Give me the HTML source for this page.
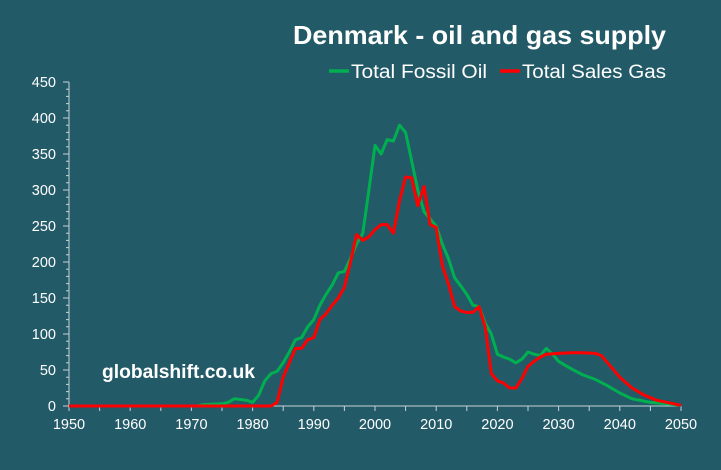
<!DOCTYPE html>
<html><head><meta charset="utf-8"><style>
body{margin:0;background:#235a68;}
svg{display:block;font-family:"Liberation Sans",sans-serif;}
</style></head><body>
<svg id="s" width="721" height="470" xmlns="http://www.w3.org/2000/svg">
<rect width="721" height="470" fill="#235a68"/>
<text x="666" y="44" text-anchor="end" fill="#fff" font-size="26" font-weight="bold" textLength="373" lengthAdjust="spacingAndGlyphs">Denmark - oil and gas supply</text>
<line x1="329" y1="71" x2="349" y2="71" stroke="#00b050" stroke-width="3.5"/>
<text x="351" y="78" fill="#fff" font-size="19" textLength="136" lengthAdjust="spacingAndGlyphs">Total Fossil Oil</text>
<line x1="500" y1="71" x2="520" y2="71" stroke="#ff0000" stroke-width="3.5"/>
<text x="522" y="78" fill="#fff" font-size="19" textLength="144" lengthAdjust="spacingAndGlyphs">Total Sales Gas</text>
<text x="102" y="378" fill="#fff" font-size="19" font-weight="bold" textLength="153" lengthAdjust="spacingAndGlyphs">globalshift.co.uk</text>
<g id="ax" stroke="#c9d3d6" stroke-width="1"></g>
<g id="lab" fill="#fff" font-size="14.5"></g>
<polyline id="g" fill="none" stroke="#00b050" stroke-width="3" stroke-linejoin="round"/>
<polyline id="r" fill="none" stroke="#ff0000" stroke-width="3" stroke-linejoin="round"/>
</svg>
<script>
var X=function(y){return 69+(y-1950)*6.12},Y=function(v){return 406-v*0.72};
var ax=document.getElementById('ax'),lab=document.getElementById('lab'),h='',l='';
h+='<line x1="69" y1="82" x2="69" y2="406"/><line x1="69" y1="406" x2="681" y2="406"/>';
for(var v=0;v<=450;v+=10){var y=Y(v);h+='<line x1="'+(v%50?66:63)+'" y1="'+y+'" x2="69" y2="'+y+'"/>';if(v%50==0)l+='<text x="56" y="'+(y+5)+'" text-anchor="end">'+v+'</text>';}
for(var yr=1950;yr<=2050;yr+=5){var x=X(yr);h+='<line x1="'+x+'" y1="406" x2="'+x+'" y2="411"/>';if(yr%10==0)l+='<text x="'+x+'" y="429" text-anchor="middle">'+yr+'</text>';}
ax.innerHTML=h;lab.innerHTML=l;
var G=[[1950,0],[1971,0],[1972,2],[1975,3],[1976,5],[1977,10],[1979,8],[1980,5],[1981,15],[1982,35],[1983,45],[1984,48],[1985,60],[1986,75],[1987,92],[1988,95],[1989,110],[1990,120],[1991,140],[1992,155],[1993,168],[1994,185],[1995,187],[1996,205],[1997,225],[1998,240],[1999,300],[2000,362],[2001,350],[2002,370],[2003,368],[2004,390],[2005,380],[2006,340],[2007,300],[2008,270],[2009,260],[2010,250],[2011,225],[2012,205],[2013,178],[2014,167],[2015,155],[2016,140],[2017,138],[2018,115],[2019,100],[2020,72],[2021,68],[2022,65],[2023,60],[2024,65],[2025,75],[2026,72],[2027,70],[2028,80],[2029,72],[2030,62],[2032,52],[2034,43],[2036,37],[2038,28],[2040,18],[2042,10],[2045,5],[2050,1]];
var R=[[1950,0],[1983,0],[1984,5],[1985,40],[1986,60],[1987,80],[1988,80],[1989,92],[1990,95],[1991,120],[1992,128],[1993,140],[1994,150],[1995,165],[1996,200],[1997,238],[1998,230],[1999,235],[2000,245],[2001,252],[2002,252],[2003,240],[2004,285],[2005,318],[2006,317],[2007,278],[2008,305],[2009,252],[2010,248],[2011,195],[2012,170],[2013,138],[2014,132],[2015,130],[2016,130],[2017,138],[2018,110],[2019,45],[2020,35],[2021,32],[2022,25],[2023,25],[2024,38],[2025,55],[2026,62],[2027,68],[2028,72],[2030,73],[2032,74],[2034,74],[2036,73],[2037,70],[2038,60],[2040,40],[2042,25],[2044,15],[2046,8],[2050,1]];
function p(a){return a.map(function(d){return X(d[0]).toFixed(1)+','+Y(d[1]).toFixed(1)}).join(' ')}
document.getElementById('g').setAttribute('points',p(G));
document.getElementById('r').setAttribute('points',p(R));
</script>
</body></html>
